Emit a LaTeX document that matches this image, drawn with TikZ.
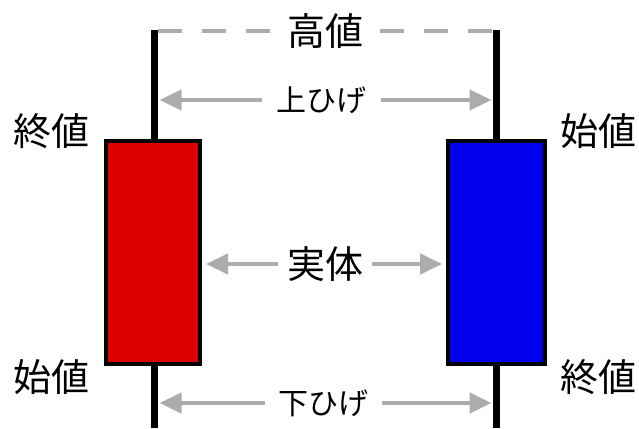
\documentclass[tikz,border=0pt]{standalone}
\usepackage{fontspec}
\setmainfont{Noto Sans CJK JP}
\usetikzlibrary{arrows.meta}
\definecolor{cred}{RGB}{221,0,0}
\definecolor{cblue}{RGB}{0,0,238}
\definecolor{agray}{RGB}{172,172,172}
\begin{document}
\begin{tikzpicture}[x=1pt,y=-1pt,
  wick/.style={line width=7pt},
  body/.style={draw=black,line width=4pt,inner sep=0pt},
  gar/.style={draw=agray,line width=4.5pt,-{Triangle[length=22pt,width=20pt]}},
  dsh/.style={draw=agray,line width=4.5pt,dash pattern=on 24pt off 20pt},
  big/.style={font=\fontsize{38}{40}\selectfont,inner ysep=0pt},
  small/.style={font=\fontsize{30}{32}\selectfont,inner ysep=0pt}]
\useasboundingbox (0,0) rectangle (639,428);
% wick end points
\coordinate (lt) at (154.5,30);
\coordinate (lb) at (154.5,428);
\coordinate (rt) at (496.5,30);
\coordinate (rb2) at (496.5,428);
% bodies
\node[body,fill=cred,minimum width=94pt,minimum height=223pt] (rb) at (152.5,252.5) {};
\node[body,fill=cblue,minimum width=97pt,minimum height=223pt] (bb) at (496.7,252.5) {};
% wicks
\draw[wick] (lt) -- (lt |- rb.north);
\draw[wick] (lt |- rb.south) -- (lb);
\draw[wick] (rt) -- (rt |- bb.north);
\draw[wick] (rt |- bb.south) -- (rb2);
% labels
\node[big,inner xsep=17pt] (hi) at (325,31) {高値};
\node[small,inner xsep=14pt] (up) at (321.5,100) {上ひげ};
\node[big,inner xsep=9pt] (mid) at (325,264) {実体};
\node[small,inner xsep=13pt] (dn) at (323.5,403) {下ひげ};
\node[big] (lc) at (51,131) {終値};
\node[big] (lo) at (51,377) {始値};
\node[big] (ro) at (598,131) {始値};
\node[big] (rc) at (598,377) {終値};
% high dashed line
\draw[dsh] (hi.west) -- (hi.west -| lt);
\draw[dsh] (hi.east) -- (hi.east -| rt);
% arrows
\draw[gar,shorten >=5pt] (up.west) -- (up.west -| lt);
\draw[gar,shorten >=5pt] (up.east) -- (up.east -| rt);
\draw[gar,shorten >=4.5pt] (mid.west) -- (mid.west -| rb.east);
\draw[gar,shorten >=4pt] (mid.east) -- (mid.east -| bb.west);
\draw[gar,shorten >=5pt] (dn.west) -- (dn.west -| lt);
\draw[gar,shorten >=5pt] (dn.east) -- (dn.east -| rt);
\end{tikzpicture}
\end{document}
